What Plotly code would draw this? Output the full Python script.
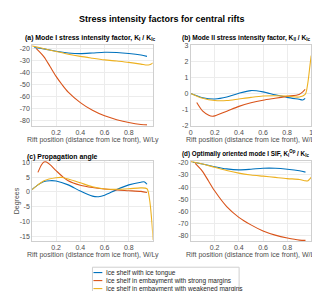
import plotly.graph_objects as go

W, H = 320, 291
FONT = "Liberation Sans, Arial, sans-serif"
BLUE, RED, YEL = "#0072BD", "#D95319", "#EDB120"

series_names = ["Ice shelf with ice tongue",
                "Ice shelf in embayment with strong margins",
                "Ice shelf in embayment with weakened margins"]

# (a) Mode I SIF
a_blue_x = [0.02, 0.1, 0.2, 0.3, 0.4, 0.5, 0.6, 0.7, 0.8, 0.9, 0.95]
a_blue_y = [-19.2, -20.4, -22.4, -23.8, -24.3, -23.8, -23.2, -23.4, -24.2, -25.5, -26.6]
a_red_x = [0.035, 0.1, 0.15, 0.2, 0.25, 0.3, 0.4, 0.5, 0.6, 0.7, 0.8, 0.9, 0.95]
a_red_y = [-20, -27, -35, -43.2, -50.2, -56.3, -65, -71.4, -76, -79.2, -81.6, -83.2, -83.5]
a_yel_x = [0, 0.05, 0.1, 0.2, 0.3, 0.4, 0.5, 0.6, 0.7, 0.8, 0.9, 0.95, 0.97, 0.985, 1.0]
a_yel_y = [-17.8, -19, -20.2, -22.6, -24.8, -26.6, -28.1, -29.5, -30.5, -31.6, -33, -33.8, -33.6, -33, -32]

# (b) Mode II SIF
b_blue_x = [0, 0.1, 0.2, 0.3, 0.4, 0.5, 0.6, 0.7, 0.8, 0.9, 0.93, 0.95]
b_blue_y = [0, -0.26, -0.34, -0.22, 0.02, 0.18, 0.1, -0.08, -0.24, -0.36, -0.4, -0.3]
b_red_x = [0.05, 0.1, 0.15, 0.18, 0.2, 0.3, 0.4, 0.5, 0.6, 0.7, 0.8, 0.9, 0.93, 0.95]
b_red_y = [-0.56, -1.1, -1.35, -1.41, -1.39, -1.1, -0.8, -0.58, -0.42, -0.3, -0.18, -0.06, 0.1, 0.25]
b_yel_x = [0, 0.1, 0.2, 0.3, 0.4, 0.5, 0.6, 0.7, 0.8, 0.9, 0.95, 0.97, 0.99, 1.0]
b_yel_y = [0, -0.3, -0.44, -0.44, -0.34, -0.24, -0.16, -0.14, -0.16, -0.22, -0.06, 0.55, 1.75, 2.35]

# (c) Propagation angle
c_blue_x = [0, 0.05, 0.1, 0.15, 0.2, 0.3, 0.4, 0.5, 0.55, 0.6, 0.7, 0.8, 0.9, 0.93, 0.95]
c_blue_y = [0.77, 2.4, 3.5, 3.8, 3.7, 2.4, 0.3, -1.4, -1.6, -1.1, 0.8, 2.4, 3.3, 3.4, 2.6]
c_red_x = [0.05, 0.08, 0.1, 0.12, 0.15, 0.2, 0.25, 0.3, 0.4, 0.5, 0.6, 0.7, 0.8, 0.9, 0.95]
c_red_y = [6.6, 9.2, 10.1, 10.1, 9.2, 7.2, 5.3, 3.8, 2.3, 1.5, 1.0, 0.66, 0.44, 0.2, -0.2]
c_yel_x = [0, 0.05, 0.1, 0.2, 0.25, 0.3, 0.4, 0.5, 0.6, 0.7, 0.8, 0.9, 0.95, 0.97, 0.99, 1.0]
c_yel_y = [0.77, 2.4, 3.8, 4.8, 4.9, 4.4, 3.1, 1.75, 1.0, 0.9, 1.1, 1.4, 1.1, -2.2, -10, -16.2]

# (d) Optimally oriented mode I SIF
d_blue_x = [0.02, 0.1, 0.2, 0.3, 0.4, 0.5, 0.6, 0.7, 0.8, 0.9, 0.95]
d_blue_y = [-19.5, -21, -23.2, -25, -25.8, -25.3, -24.5, -24.5, -25.3, -26.6, -27.7]
d_red_x = [0.04, 0.1, 0.15, 0.2, 0.3, 0.4, 0.5, 0.6, 0.7, 0.8, 0.9, 0.95]
d_red_y = [-20.5, -27, -35, -43, -56, -64.8, -71, -76, -79.4, -81.8, -83.5, -83.7]
d_yel_x = [0, 0.1, 0.2, 0.3, 0.4, 0.5, 0.6, 0.7, 0.8, 0.9, 0.95, 0.97, 1.0]
d_yel_y = [-19, -21, -23.7, -26.3, -28.5, -30, -31, -32, -33, -33.7, -34.8, -34.8, -31.6]

sif_ticks = [-80, -70, -60, -50, -40, -30, -20]
sif_labels = ["-80", "-70", "-60", "-50", "-40", "-30", "-20"]
k2_ticks = [-2, -1, 0, 1, 2, 3]
k2_labels = ["-2", "-1", "0", "1", "2", "3"]
ang_ticks = [-15, -10, -5, 0, 5, 10]
ang_labels = ["-15", "-10", "-5", "0", "5", "10"]
x_inner_ticks = [0.2, 0.4, 0.6, 0.8]
x_full_ticks = [0, 0.2, 0.4, 0.6, 0.8, 1]

def px_x(p):
    return p / W

def px_y(p):
    return 1 - p / H

fig = go.Figure()

panels = [
    ("", "", [(a_blue_x, a_blue_y, BLUE), (a_red_x, a_red_y, RED), (a_yel_x, a_yel_y, YEL)]),
    ("2", "2", [(b_blue_x, b_blue_y, BLUE), (b_red_x, b_red_y, RED), (b_yel_x, b_yel_y, YEL)]),
    ("3", "3", [(c_blue_x, c_blue_y, BLUE), (c_red_x, c_red_y, RED), (c_yel_x, c_yel_y, YEL)]),
    ("4", "4", [(d_blue_x, d_blue_y, BLUE), (d_red_x, d_red_y, RED), (d_yel_x, d_yel_y, YEL)]),
]
for xs, ys, tr in panels:
    for (x, y, col) in tr:
        fig.add_trace(go.Scatter(x=x, y=y, mode="lines", line=dict(color=col, width=1.1, shape="spline", smoothing=0.8),
                                 xaxis="x" + xs, yaxis="y" + ys, showlegend=False, hoverinfo="skip"))

tickfont = dict(family=FONT, size=7, color="#4d4d4d")
common = dict(showgrid=True, gridcolor="#ececec", gridwidth=1, zeroline=False, showline=True,
              linecolor="#cfcfcf", linewidth=1, mirror=True, ticks="", tickfont=tickfont)

top_a, bot_a = 34, 116.5
top_c, bot_c = 152.5, 234.6
L1, R1 = 22.5, 144.5
L2, R2 = 183, 305

fig.update_layout(
    width=W, height=H, margin=dict(l=0, r=0, t=0, b=0),
    plot_bgcolor="white", paper_bgcolor="white",
    font=dict(family=FONT, size=7, color="#262626"),
    xaxis=dict(domain=[px_x(L1), px_x(R1)], range=[0.003, 0.997], tickvals=x_inner_ticks, anchor="y", **common),
    yaxis=dict(domain=[px_y(bot_a), px_y(top_a)], range=[-84.2, -17.3], tickvals=sif_ticks, ticktext=sif_labels, anchor="x", **common),
    xaxis2=dict(domain=[px_x(L2), px_x(R2)], range=[0, 1], tickvals=x_full_ticks, anchor="y2", **common),
    yaxis2=dict(domain=[px_y(bot_a), px_y(top_a)], range=[-2, 3], tickvals=k2_ticks, ticktext=k2_labels, anchor="x2", **common),
    xaxis3=dict(domain=[px_x(L1), px_x(R1)], range=[0.003, 0.997], tickvals=x_inner_ticks, anchor="y3", **common),
    yaxis3=dict(domain=[px_y(bot_c), px_y(top_c)], range=[-16.5, 10.5], tickvals=ang_ticks, ticktext=ang_labels, anchor="x3", **common),
    xaxis4=dict(domain=[px_x(L2), px_x(R2)], range=[0.003, 0.997], tickvals=x_inner_ticks, anchor="y4", **common),
    yaxis4=dict(domain=[px_y(bot_c), px_y(top_c)], range=[-84.2, -18.4], tickvals=sif_ticks, ticktext=sif_labels, anchor="x4", **common),
)

def ann(text, x, y, size=7, bold=False, xanchor="center", color="#262626", angle=0):
    if bold:
        text = "<b>" + text + "</b>"
    fig.add_annotation(text=text, x=px_x(x), y=px_y(y), xref="paper", yref="paper",
                       xanchor=xanchor, yanchor="middle", showarrow=False, textangle=angle,
                       font=dict(family=FONT, size=size, color=color))

ann("Stress intensity factors for central rifts", 153.5, 7.5, size=9, bold=True, color="#000000")
ann("(a) Mode I stress intensity factor, K<sub>I</sub> / K<sub>Ic</sub>", 13, 26.5, size=6.9, bold=True, xanchor="left", color="#000000")
ann("(b) Mode II stress intensity factor, K<sub>II</sub> / K<sub>Ic</sub>", 172, 26.5, size=6.6, bold=True, xanchor="left", color="#000000")
ann("(c) Propagation angle", 15, 148.3, size=6.9, bold=True, xanchor="left", color="#000000")
ann("(d) Optimally oriented mode I SIF, K<sub>I</sub><sup>Op</sup> / K<sub>Ic</sub>", 172, 144.5, size=6.3, bold=True, xanchor="left", color="#000000")

xl = "Rift position (distance from ice front), W/Ly"
ann(xl, 84.5, 131, color="#4d4d4d")
ann(xl, 245, 131, color="#4d4d4d")
ann(xl, 84.5, 249.5, color="#4d4d4d")
ann(xl, 245, 249.5, color="#4d4d4d")
ann("Degrees", 6.5, 193.5, color="#4d4d4d", angle=-90)

# legend (manual, compact like the reference)
LX0, LX1, LY0, LY1 = 83.5, 232, 261.5, 289
fig.add_shape(type="rect", xref="paper", yref="paper", x0=px_x(LX0), x1=px_x(LX1), y0=px_y(LY1), y1=px_y(LY0),
              line=dict(color="#cfcfcf", width=1), fillcolor="white")
rows = [267, 275.2, 283.4]
for name, col, ry in zip(series_names, [BLUE, RED, YEL], rows):
    fig.add_shape(type="line", xref="paper", yref="paper", x0=px_x(84.5), x1=px_x(93.5), y0=px_y(ry), y1=px_y(ry),
                  line=dict(color=col, width=1.1))
    ann(name, 95, ry, size=6.5, xanchor="left", color="#262626")

fig.write_html("out.html")
